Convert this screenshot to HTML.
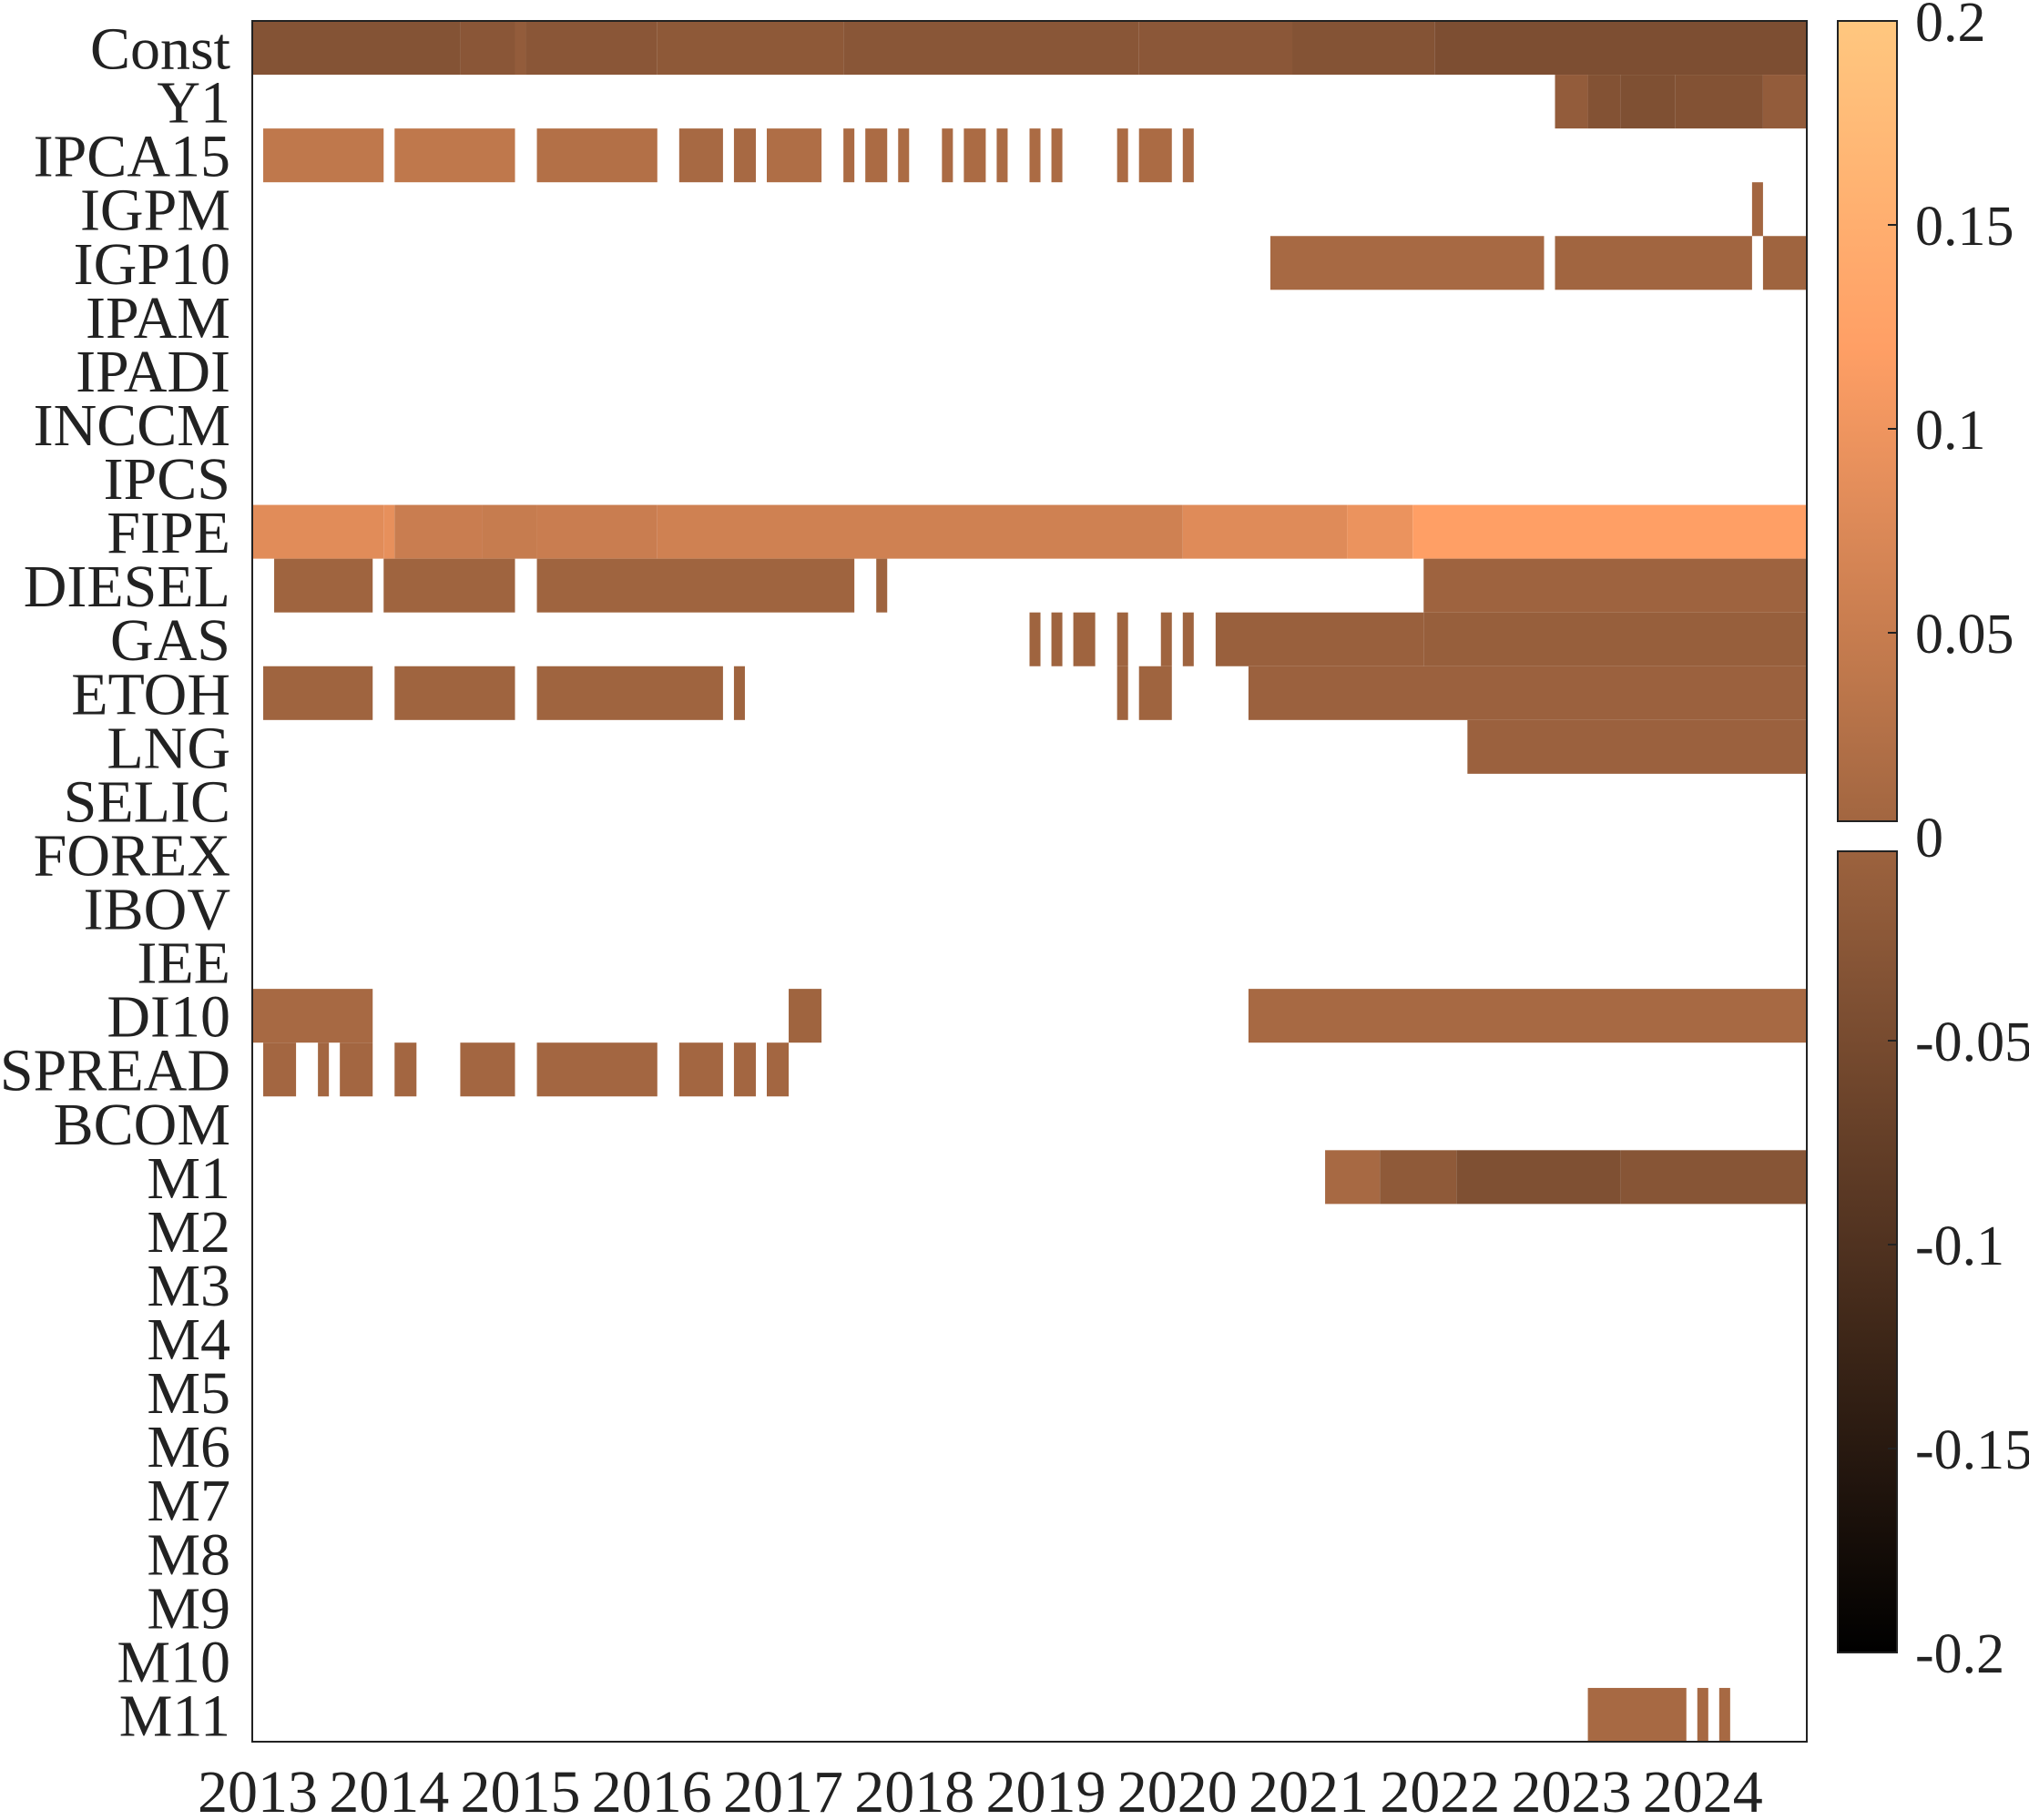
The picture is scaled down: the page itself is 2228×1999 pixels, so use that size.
<!DOCTYPE html>
<html><head><meta charset="utf-8"><style>
html,body{margin:0;padding:0;background:#fff;}
svg{display:block;font-family:"Liberation Serif",serif;}
</style></head><body>
<svg id="chart" width="2228" height="1999" viewBox="0 0 2228 1999" xmlns="http://www.w3.org/2000/svg">
<g id="cells"></g>
<g id="ylabels"></g>
<g id="xlabels"></g>
<rect x="277" y="23" width="1707" height="1890" fill="none" stroke="#222" stroke-width="2"/>
<defs><linearGradient id="cmap" x1="0" y1="1" x2="0" y2="0"></linearGradient></defs>
<g id="colorbar"></g>
</svg>
<script>
const rowNames=["Const","Y1","IPCA15","IGPM","IGP10","IPAM","IPADI","INCCM","IPCS","FIPE","DIESEL","GAS","ETOH","LNG","SELIC","FOREX","IBOV","IEE","DI10","SPREAD","BCOM","M1","M2","M3","M4","M5","M6","M7","M8","M9","M10","M11"];
const yearTicks=[2013,2014,2015,2016,2017,2018,2019,2020,2021,2022,2023,2024];
const nCols=142;
const segRow=[0,0,0,0,0,0,0,0,0,
1,1,1,1,1,
2,2,2,2,2,2,2,2,2,2,2,2,2,2,2,2,2,
3,
4,4,4,
9,9,9,9,9,9,9,9,9,
10,10,10,10,10,
11,11,11,11,11,11,11,11,
12,12,12,12,12,12,12,
13,
18,18,18,
19,19,19,19,19,19,19,19,19,
21,21,21,21,
31,31,31];
const segStart=[0,19,24,25,37,54,81,95,108,
119,122,125,130,138,
1,13,26,39,44,47,54,56,59,63,65,68,71,73,79,81,85,
137,
93,119,138,
0,12,13,21,26,37,85,100,106,
2,12,26,57,107,
71,73,75,79,83,85,88,107,
1,13,26,44,79,81,91,
111,
0,49,91,
1,6,8,13,19,26,39,44,47,
98,103,110,125,
122,132,134];
const segEnd=[19,24,25,37,54,81,95,108,142,
122,125,130,138,142,
12,24,37,43,46,52,55,58,60,64,67,69,72,74,80,84,86,
138,
118,137,142,
12,13,21,26,37,85,100,106,142,
11,24,55,58,142,
72,74,77,80,84,86,107,142,
11,24,43,45,80,84,142,
142,
11,52,142,
4,7,11,15,24,37,43,46,49,
103,110,125,142,
131,133,135];
const segVal=[-0.034,-0.027,-0.015,-0.027,-0.022,-0.028,-0.025,-0.034,-0.043,
-0.015,-0.035,-0.04,-0.035,-0.015,
0.04,0.04,0.025,0.01,0.01,0.02,0.015,0.015,0.015,0.015,0.015,0.015,0.015,0.015,0.015,0.015,0.015,
0.005,
0.01,0.002,0.0,
0.082,0.09,0.052,0.048,0.052,0.06,0.08,0.095,0.12,
0.0,0.0,0.0,0.0,-0.002,
0.0,0.0,0.0,0.0,0.0,0.0,-0.008,-0.01,
0.0,0.0,0.0,0.0,0.0,0.0,-0.005,
-0.005,
0.01,0.0,0.01,
0.005,0.005,0.005,0.005,0.005,0.005,0.005,0.005,0.005,
0.01,-0.02,-0.04,-0.03,
0.01,0.01,0.01];
const cbTicks=[0.2,0.15,0.1,0.05,0,-0.05,-0.1,-0.15,-0.2];
const cbLabels=["0.2","0.15","0.1","0.05","0","-0.05","-0.1","-0.15","-0.2"];

const NS="http://www.w3.org/2000/svg";
const PL=277,PR=1984,PT=23,PB=1913;
const colW=(PR-PL)/nCols, rowH=(PB-PT)/rowNames.length;
const xCol=c=>PL+c*colW;
const yRow=r=>PT+r*rowH;
const vmin=-0.2,vmax=0.2;
function copper(v){
  let x=(v-vmin)/(vmax-vmin); x=Math.max(0,Math.min(1,x));
  const r=Math.min(1,1.25*x),g=0.7812*x,b=0.4975*x;
  return `rgb(${Math.round(r*255)},${Math.round(g*255)},${Math.round(b*255)})`;
}
const cells=document.getElementById('cells');
for(let i=0;i<segRow.length;i++){
  const el=document.createElementNS(NS,'rect');
  
  
  el.setAttribute('x',xCol(segStart[i]));
  el.setAttribute('y',yRow(segRow[i]));
  el.setAttribute('width',xCol(segEnd[i])-xCol(segStart[i]));
  el.setAttribute('height',rowH);
  el.setAttribute('fill',copper(segVal[i]));
  cells.appendChild(el);
}
const yl=document.getElementById('ylabels');
rowNames.forEach((n,r)=>{
  const t=document.createElementNS(NS,'text');
  
  
  t.setAttribute('x',253);
  t.setAttribute('y',yRow(r)+rowH/2+23);
  t.setAttribute('text-anchor','end');
  t.setAttribute('font-size','66');
  t.setAttribute('fill','#222');
  t.textContent=n;
  yl.appendChild(t);
});
const xl=document.getElementById('xlabels');
yearTicks.forEach((y,i)=>{
  const t=document.createElementNS(NS,'text');
  
  
  t.setAttribute('x',xCol((y-2013)*12+0.5));
  t.setAttribute('y',1990);
  t.setAttribute('text-anchor','middle');
  t.setAttribute('font-size','66');
  t.setAttribute('fill','#222');
  t.textContent=String(y);
  xl.appendChild(t);
});
const CX=2018,CW=65,CT=23,CB=1815;
const cbY=v=>CT+(vmax-v)/(vmax-vmin)*(CB-CT);
const grad=document.getElementById('cmap');
for(let k=0;k<=20;k++){
  const v=vmin+(vmax-vmin)*k/20;
  const s=document.createElementNS(NS,'stop');
  s.setAttribute('offset',(k/20));
  s.setAttribute('stop-color',copper(v));
  grad.appendChild(s);
}
const cb=document.getElementById('colorbar');
const gr=document.createElementNS(NS,'rect');


gr.setAttribute('x',CX);gr.setAttribute('y',CT);gr.setAttribute('width',CW);gr.setAttribute('height',CB-CT);
gr.setAttribute('fill','url(#cmap)');
cb.appendChild(gr);
const gap=document.createElementNS(NS,'rect');


gap.setAttribute('x',CX-2);gap.setAttribute('y',902);gap.setAttribute('width',CW+4);gap.setAttribute('height',33);
gap.setAttribute('fill','#fff');
cb.appendChild(gap);
[[CT,902],[935,CB]].forEach(p=>{
  const b=document.createElementNS(NS,'rect');
  
  
  b.setAttribute('x',CX);b.setAttribute('y',p[0]);b.setAttribute('width',CW);b.setAttribute('height',p[1]-p[0]);
  b.setAttribute('fill','none');b.setAttribute('stroke','#222');b.setAttribute('stroke-width','2');
  cb.appendChild(b);
});
cbTicks.forEach((v,i)=>{
  const y=cbY(v);
  if(v!==0){
    const l=document.createElementNS(NS,'line');
    
    
    l.setAttribute('x1',CX+CW);l.setAttribute('x2',CX+CW-10);l.setAttribute('y1',y);l.setAttribute('y2',y);
    l.setAttribute('stroke','#222');l.setAttribute('stroke-width','2');
    cb.appendChild(l);
  }
  const t=document.createElementNS(NS,'text');
  
  
  t.setAttribute('x',2103);t.setAttribute('y',y+22);
  t.setAttribute('font-size','62');t.setAttribute('fill','#222');
  t.textContent=cbLabels[i];
  cb.appendChild(t);
});
</script>
</body></html>
